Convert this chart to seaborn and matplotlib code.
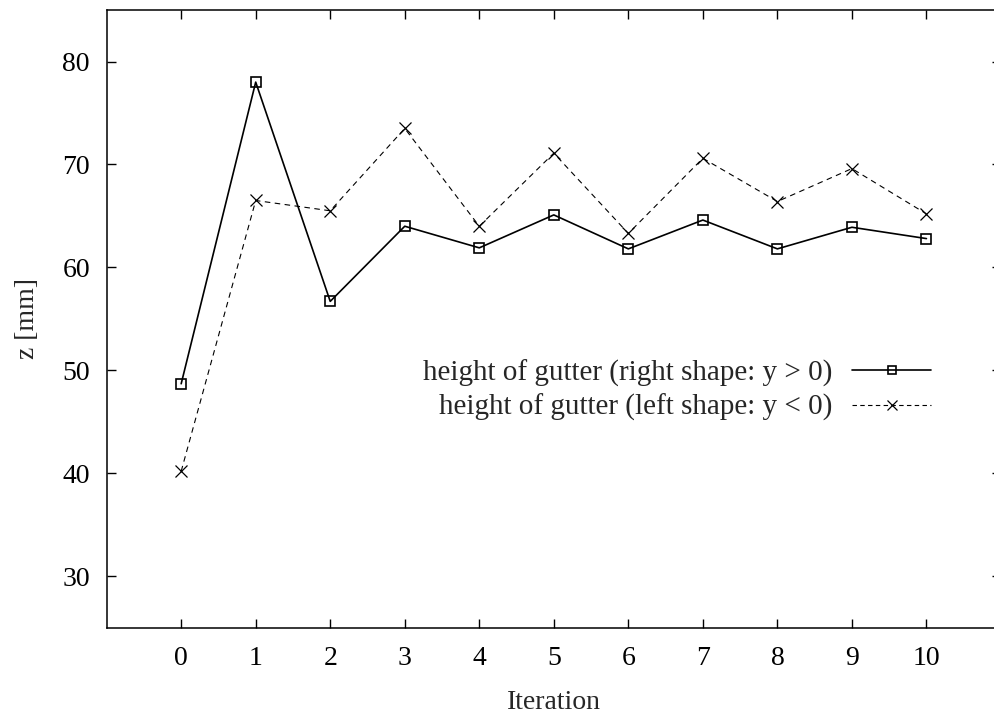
import matplotlib
matplotlib.use("Agg")
import matplotlib.pyplot as plt
import numpy as np
import pandas as pd
import seaborn as sns

# Gutter height per optimisation iteration
iterations = list(range(11))
right_shape = [48.7, 78.0, 56.7, 64.0, 61.9, 65.1, 61.8, 64.6, 61.8, 63.9, 62.8]
left_shape = [40.2, 66.5, 65.5, 73.5, 64.0, 71.1, 63.3, 70.6, 66.4, 69.6, 65.2]

label_right = "height of gutter (right shape: y > 0)"
label_left = "height of gutter (left shape: y < 0)"

x_ticks = list(range(11))
y_ticks = [30, 40, 50, 60, 70, 80]

sns.set_style("ticks")
plt.rcParams["font.family"] = ["Liberation Serif", "DejaVu Serif"]
plt.rcParams["font.size"] = 20

df_right = pd.DataFrame({"Iteration": iterations, "z": right_shape})
df_left = pd.DataFrame({"Iteration": iterations, "z": left_shape})

fig = plt.figure(figsize=(9.94, 7.17), dpi=100)
ax = fig.add_axes([0.1073, 0.1245, 0.8997, 0.8615])

sns.lineplot(data=df_right, x="Iteration", y="z", ax=ax, color="black",
             linewidth=1.2, marker="s", markersize=6.5, markerfacecolor="none",
             markeredgecolor="black", markeredgewidth=1.2, label=label_right)
sns.lineplot(data=df_left, x="Iteration", y="z", ax=ax, color="black",
             linewidth=0.8, marker="x", markersize=8,
             markeredgecolor="black", markeredgewidth=0.9, label=label_left)
ax.lines[1].set_dashes((5, 4))

ax.set_xlim(-1, 11)
ax.set_ylim(25, 85)
ax.set_xticks(x_ticks)
ax.set_yticks(y_ticks)

for side in ["top", "left", "bottom"]:
    ax.spines[side].set_visible(True)
    ax.spines[side].set_color("black")
    ax.spines[side].set_linewidth(1.1)
ax.spines["right"].set_visible(False)

ax.tick_params(axis="both", which="major", direction="in", length=6.5,
               width=1.0, color="black", top=True, right=True,
               labelsize=20, labelcolor="black")
ax.tick_params(axis="x", pad=13)
ax.tick_params(axis="y", pad=12)

ax.set_xlabel("Iteration", fontsize=20, labelpad=14)
ax.set_ylabel("z [mm]", fontsize=20, labelpad=16)

leg = ax.legend(loc="center right", bbox_to_anchor=(0.922, 0.384),
                frameon=False, markerfirst=False, fontsize=21,
                handlelength=2.7, handletextpad=0.7, labelspacing=0.25,
                borderpad=0, borderaxespad=0)
handles = leg.legend_handles
handles[0].set_markersize(5.5)
handles[1].set_markersize(6.5)
handles[1].set_dashes((4, 3))

fig.savefig("out.png", dpi=100, facecolor="white")
